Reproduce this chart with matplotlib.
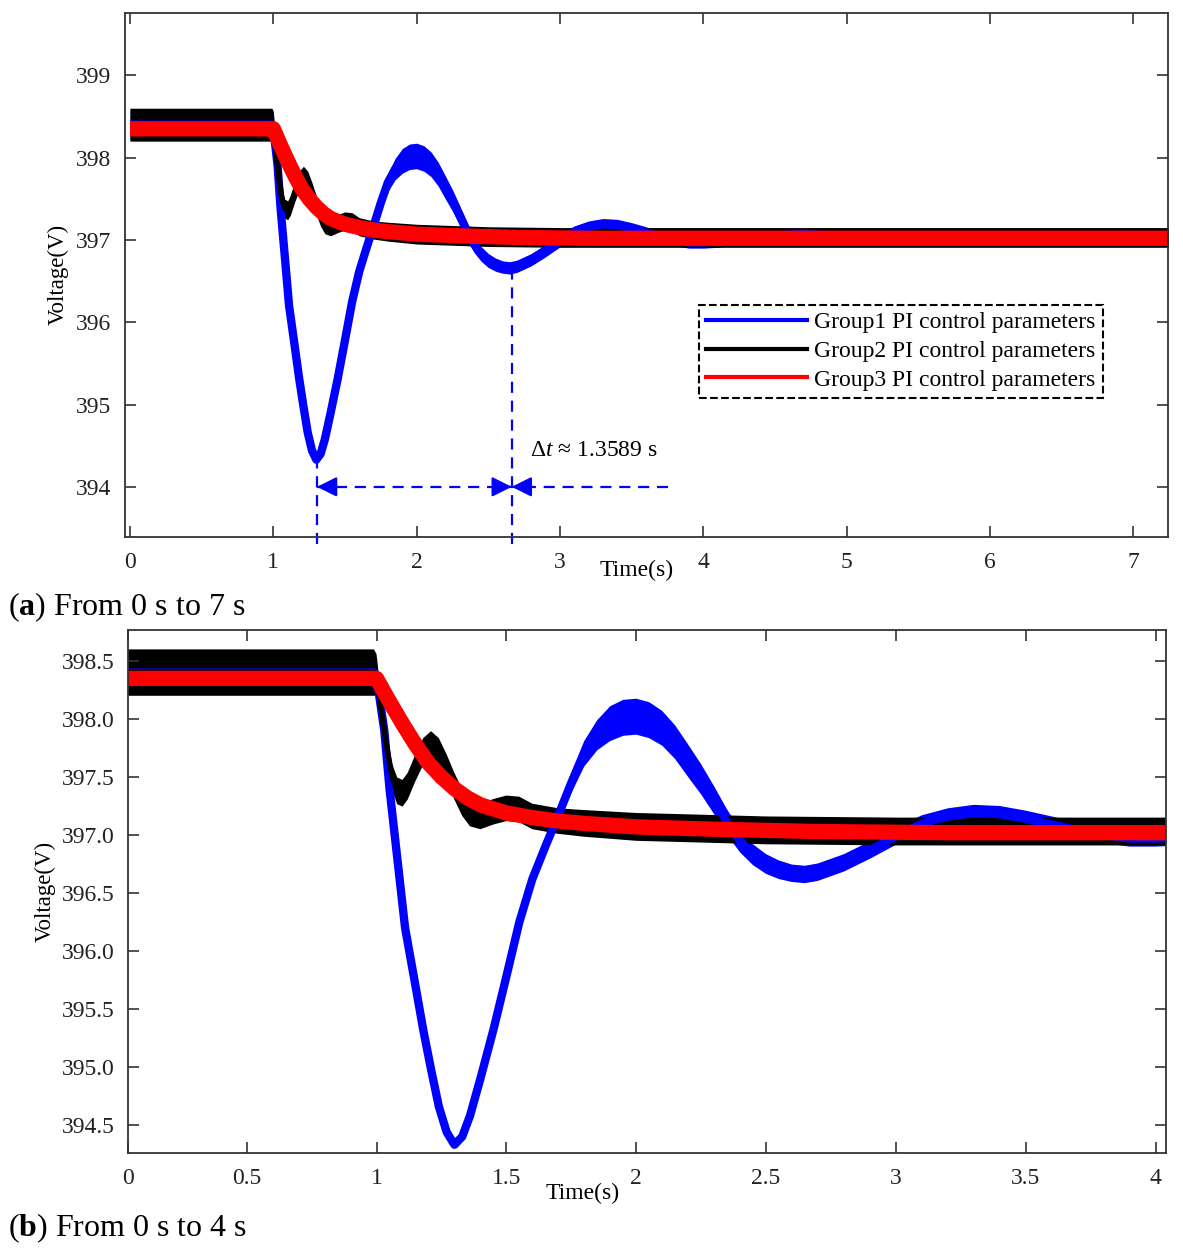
import numpy as np
import matplotlib.pyplot as plt
from matplotlib.lines import Line2D

plt.rcParams['font.family'] = ['Liberation Serif', 'DejaVu Serif']
plt.rcParams['mathtext.fontset'] = 'custom'
plt.rcParams['mathtext.rm'] = 'Liberation Serif'
plt.rcParams['mathtext.it'] = 'Liberation Serif:italic'
plt.rcParams['mathtext.bf'] = 'Liberation Serif:bold'

# Group1 (blue): time, centre voltage, ripple half-width
t_g1 = [0.00, 0.50, 0.99, 1.00, 1.03, 1.05, 1.08, 1.11, 1.15, 1.18, 1.21, 1.24, 1.27,
        1.30, 1.33, 1.36, 1.40, 1.45, 1.50, 1.55, 1.60, 1.65, 1.70, 1.75, 1.80, 1.85,
        1.90, 1.95, 2.00, 2.05, 2.10, 2.15, 2.20, 2.25, 2.30, 2.35, 2.40, 2.45, 2.50,
        2.55, 2.60, 2.65, 2.70, 2.75, 2.80, 2.90, 3.00, 3.10, 3.20, 3.30, 3.40, 3.50,
        3.60, 3.70, 3.80, 3.90, 4.00, 4.10, 4.20, 4.40, 4.70, 5.00, 5.20, 5.40, 5.70,
        6.00, 6.30, 7.30]
v_g1 = [398.40, 398.40, 398.40, 398.36, 397.90, 397.40, 396.80, 396.20, 395.70, 395.32,
        394.98, 394.66, 394.44, 394.33, 394.40, 394.58, 394.90, 395.32, 395.78, 396.25,
        396.62, 396.90, 397.17, 397.45, 397.70, 397.86, 397.96, 398.01, 398.02, 397.99,
        397.92, 397.80, 397.64, 397.48, 397.30, 397.11, 396.95, 396.83, 396.75, 396.70,
        396.67, 396.66, 396.68, 396.72, 396.76, 396.87, 396.99, 397.10, 397.16, 397.19,
        397.18, 397.14, 397.09, 397.04, 397.00, 396.97, 396.97, 396.98, 397.00, 397.05,
        397.07, 397.05, 397.01, 397.01, 397.03, 397.05, 397.04, 397.03]
r_g1 = [0.19, 0.19, 0.19, 0.16, 0.04, 0.02, 0.02, 0.02, 0.02, 0.02, 0.02, 0.02, 0.02,
        0.03, 0.03, 0.03, 0.03, 0.04, 0.04, 0.05, 0.06, 0.07, 0.08, 0.09, 0.11, 0.13,
        0.15, 0.155, 0.155, 0.155, 0.15, 0.145, 0.14, 0.13, 0.12, 0.11, 0.10, 0.09, 0.085,
        0.08, 0.075, 0.075, 0.075, 0.075, 0.075, 0.075, 0.075, 0.07, 0.07, 0.07, 0.07,
        0.07, 0.07, 0.07, 0.07, 0.07, 0.07, 0.07, 0.07, 0.07, 0.07, 0.07, 0.07, 0.07,
        0.07, 0.07, 0.07, 0.07]

# Group2 (black)
t_g2 = [0.00, 0.99, 1.00, 1.02, 1.04, 1.06, 1.08, 1.10, 1.12, 1.15, 1.18, 1.21, 1.24,
        1.27, 1.30, 1.33, 1.36, 1.40, 1.45, 1.50, 1.55, 1.60, 1.70, 1.80, 2.00, 2.50,
        3.00, 7.30]
v_g2 = [398.40, 398.40, 398.38, 398.05, 397.75, 397.50, 397.38, 397.36, 397.42, 397.58,
        397.72, 397.78, 397.72, 397.58, 397.42, 397.28, 397.19, 397.16, 397.20, 397.23,
        397.22, 397.16, 397.12, 397.10, 397.07, 397.04, 397.03, 397.03]
r_g2 = [0.20, 0.20, 0.18, 0.12, 0.115, 0.115, 0.115, 0.115, 0.115, 0.115, 0.115, 0.115,
        0.115, 0.115, 0.115, 0.115, 0.115, 0.11, 0.11, 0.11, 0.11, 0.11, 0.11, 0.115,
        0.12, 0.12, 0.12, 0.12]

# Group3 (red)
t_g3 = [0.00, 0.99, 1.00, 1.05, 1.10, 1.15, 1.20, 1.25, 1.30, 1.35, 1.40, 1.50, 1.60,
        1.70, 1.80, 2.00, 2.30, 2.70, 3.20, 7.30]
v_g3 = [398.35, 398.35, 398.35, 398.15, 397.96, 397.78, 397.62, 397.50, 397.40, 397.32,
        397.26, 397.19, 397.15, 397.12, 397.10, 397.07, 397.05, 397.03, 397.02, 397.02]

labels = ['Group1 PI control parameters', 'Group2 PI control parameters',
          'Group3 PI control parameters']
colors = ['#0000ff', '#000000', '#ff0000']

# delta t annotation
t_min = 1.305
dt = 1.3589
v_arrow = 394.0

fig = plt.figure(figsize=(11.83, 12.55), dpi=100)
ax1 = fig.add_axes([0.10566, 0.57235, 0.88166, 0.41729])
ax2 = fig.add_axes([0.10862, 0.08127, 0.87701, 0.41673])


def draw_curves(ax):
    t1, v1, r1 = np.array(t_g1), np.array(v_g1), np.array(r_g1)
    ax.fill_between(t1, v1 - r1, v1 + r1, color=colors[0], lw=0)
    ax.plot(t1, v1, color=colors[0], lw=6, solid_capstyle='butt', solid_joinstyle='round')
    t2, v2, r2 = np.array(t_g2), np.array(v_g2), np.array(r_g2)
    ax.fill_between(t2, v2 - r2, v2 + r2, color=colors[1], lw=0)
    ax.plot(t2, v2, color=colors[1], lw=4, solid_capstyle='butt', solid_joinstyle='round')
    ax.plot(t_g3, v_g3, color=colors[2], lw=11, solid_capstyle='butt')


def style(ax):
    for s in ax.spines.values():
        s.set_color('#333333')
        s.set_linewidth(1.3)
    ax.tick_params(direction='in', top=True, right=True, length=8, width=1.2,
                   colors='#333333', labelcolor='#222222', labelsize=17)
    ax.tick_params(axis='x', pad=11)
    ax.tick_params(axis='y', pad=10)


# (a) 0 - 7 s
draw_curves(ax1)
ax1.set_xlim(-0.035, 7.243)
ax1.set_ylim(393.394, 399.757)
ax1.set_xticks(range(0, 8))
ax1.set_yticks(range(394, 400))
style(ax1)
ax1.set_ylabel('Voltage(V)', fontsize=16.5)
ax1.yaxis.set_label_coords(-0.054, 0.5)
ax1.set_xlabel('Time(s)', fontsize=17)
ax1.xaxis.set_label_coords(0.491, -0.045)

ls = (0, (5, 3.5))
ax1.plot([t_min, t_min], [393.3, 394.3], color='#0000ff', lw=1.6, ls=ls, clip_on=False)
ax1.plot([t_min + dt, t_min + dt], [393.3, 396.6], color='#0000ff', lw=1.6, ls=ls, clip_on=False)
ax1.plot([t_min, 3.754], [v_arrow, v_arrow], color='#0000ff', lw=1.6, ls=ls)
aprops = dict(arrowstyle='-|>,head_length=0.6,head_width=0.3', color='#0000ff', lw=1.6,
              mutation_scale=20, shrinkA=0, shrinkB=0)
ax1.annotate('', xy=(t_min, v_arrow), xytext=(t_min + 0.12, v_arrow), arrowprops=aprops)
ax1.annotate('', xy=(t_min + dt, v_arrow), xytext=(t_min + dt - 0.12, v_arrow), arrowprops=aprops)
ax1.annotate('', xy=(t_min + dt, v_arrow), xytext=(t_min + dt + 0.12, v_arrow), arrowprops=aprops)
ax1.text(2.79, 394.44, r'$\mathit{\Delta t}$ ≈ 1.3589 s', fontsize=17, va='center', ha='left')

handles = [Line2D([], [], color=c, lw=3) for c in colors]
leg = ax1.legend(handles, labels, loc='upper left', bbox_to_anchor=(0.550, 0.443),
                 fontsize=17, handlelength=4.3, handletextpad=0.3, labelspacing=0.3,
                 borderpad=0.3, borderaxespad=0, fancybox=False, framealpha=1)
leg.get_frame().set_edgecolor('black')
leg.get_frame().set_linestyle('--')
leg.get_frame().set_linewidth(1.5)

# (b) 0 - 4 s
draw_curves(ax2)
ax2.set_xlim(0.045, 4.04)
ax2.set_ylim(394.259, 398.767)
ax2.set_xticks([0.045, 0.5, 1, 1.5, 2, 2.5, 3, 3.5, 4])
ax2.set_xticklabels(['0', '0.5', '1', '1.5', '2', '2.5', '3', '3.5', '4'])
ax2.set_yticks(np.arange(394.5, 398.6, 0.5))
ax2.set_yticklabels(['%.1f' % v for v in np.arange(394.5, 398.6, 0.5)])
style(ax2)
ax2.set_ylabel('Voltage(V)', fontsize=16.5)
ax2.yaxis.set_label_coords(-0.07, 0.5)
ax2.set_xlabel('Time(s)', fontsize=17)
ax2.xaxis.set_label_coords(0.438, -0.058)

fig.text(0.007, 1 - 607 / 1255, r'($\mathbf{a}$) From 0 s to 7 s', fontsize=23, va='center')
fig.text(0.007, 1 - 1228 / 1255, r'($\mathbf{b}$) From 0 s to 4 s', fontsize=23, va='center')

fig.savefig('out.png', dpi=100)
